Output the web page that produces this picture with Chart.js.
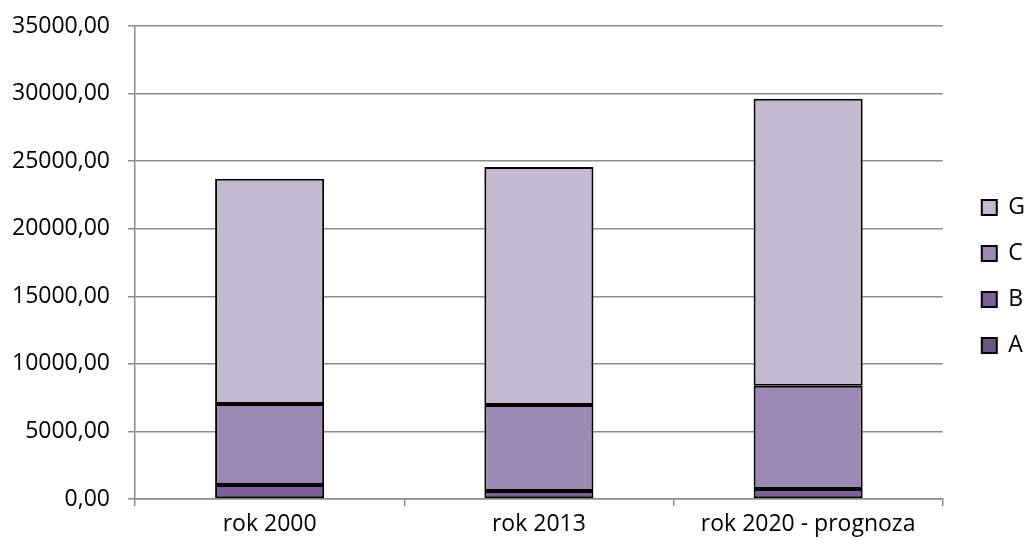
<!DOCTYPE html>
<html>
<head>
<meta charset="utf-8">
<script src="https://cdn.jsdelivr.net/npm/chart.js@4.4.1/dist/chart.umd.min.js"></script>
<style>
  html, body { margin: 0; padding: 0; background: #fff; }
  #wrap { width: 1024px; height: 545px; position: relative; }
</style>
</head>
<body>
<div id="wrap"><canvas id="chart"></canvas></div>
<script>
// values
let categories = ["rok 2000", "rok 2013", "rok 2020 - prognoza"];
let seriesA = [0, 0, 0];
let seriesB = [1030, 590, 740];
let seriesC = [6000, 6370, 7640];
let seriesG = [16660, 17600, 21230];
let yTicks = [0, 5000, 10000, 15000, 20000, 25000, 30000, 35000];

let fontFamily = "'Open Sans', 'Liberation Sans', sans-serif";
let gridColor = "#8c8c8c";

function makeSet(label, data, color){
	return {
		label: label,
		data: data,
		backgroundColor: color,
		borderColor: "#000000",
		borderWidth: 2,
		borderSkipped: false,
		barPercentage: 0.405,
		categoryPercentage: 1.0
	};
}

//move the legend a bit right and up, like the original
let legendShift = {
	id: "legendShift",
	afterLayout: function(chart){
		chart.legend.left += 16;
		chart.legend.right += 16;
		chart.legend.top -= 9;
		chart.legend.bottom -= 9;
	}
};

let ctx = document.getElementById("chart").getContext("2d");
let chart = new Chart(ctx, {
	type: "bar",
	data: {
		labels: categories,
		datasets: [
			makeSet("A", seriesA, "#66557f"),
			makeSet("B", seriesB, "#7b609a"),
			makeSet("C", seriesC, "#9b89b4"),
			makeSet("G", seriesG, "#c3bad2")
		]
	},
	plugins: [legendShift],
	options: {
		responsive: true,
		maintainAspectRatio: false,
		animation: false,
		layout: { padding: { top: 26, right: 5, left: 0, bottom: 0 } },
		plugins: {
			tooltip: { enabled: false },
			legend: {
				position: "right",
				reverse: true,
				labels: {
					boxWidth: 15,
					boxHeight: 15,
					padding: 23,
					color: "#000",
					font: { family: fontFamily, size: 23 }
				}
			}
		},
		scales: {
			x: {
				stacked: true,
				afterFit: function(scale){ scale.height = 46; },
				grid: {
					offset: true,
					drawOnChartArea: false,
					drawTicks: true,
					tickLength: 7,
					color: gridColor,
					lineWidth: 1.5
				},
				border: { color: gridColor, width: 1.5 },
				ticks: {
					color: "#000",
					padding: 5,
					font: { family: fontFamily, size: 23 }
				}
			},
			y: {
				stacked: true,
				min: 0,
				max: 35000,
				afterBuildTicks: function(scale){
					scale.ticks = yTicks.map(function(v){ return { value: v }; });
				},
				afterFit: function(scale){
					scale.width = 135;
					scale.paddingTop = 0;
					scale.paddingBottom = 0;
				},
				grid: {
					color: gridColor,
					lineWidth: 1.5,
					tickLength: 7
				},
				border: { color: gridColor, width: 1.5 },
				ticks: {
					color: "#000",
					padding: 18,
					font: { family: fontFamily, size: 23 },
					callback: function(v){ return v.toFixed(2).replace(".", ","); }
				}
			}
		}
	}
});
</script>
</body>
</html>
